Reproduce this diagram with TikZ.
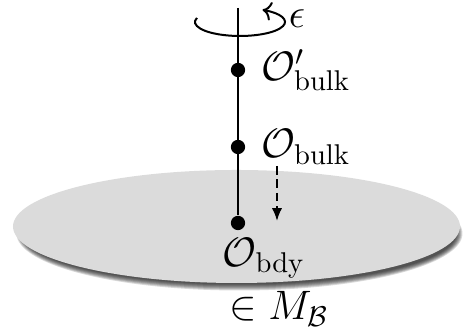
\documentclass[tikz,border=0pt]{standalone}
\usetikzlibrary{positioning,arrows.meta}

\begin{document}
\begin{tikzpicture}[
  x=0.35pt, y=0.35pt, font=\fontsize{14}{17}\selectfont, line width=0.7pt,
  opdot/.style={circle, fill=black, inner sep=0pt, minimum size=5pt},
  oplabel/.style={inner sep=1pt},
  flow/.style={dash pattern=on 3pt off 1.7pt, -{Latex[length=4.5pt,width=3.6pt]}},
  plane/.style={fill=black!14},
  planeshadow/.style={fill=black, opacity=0.15}
]
\useasboundingbox (0,0) rectangle (464,328);
% boundary plane with a soft shadow
\foreach \r in {0,...,6}
  \fill[planeshadow] (239.5,94.5) ellipse [x radius=217+\r, y radius=51+\r];
\fill[plane] (236.5,101.5) ellipse [x radius=223.5, y radius=56.5];

% rotation about the line
\draw[->] (240,306) ++(163:45 and 14) arc [start angle=163, end angle=420, x radius=45, y radius=14];
\node[inner sep=0pt] (eps) at (297,309) {$\epsilon$};

% operators on the line
\coordinate (top) at (238,320);
\node[opdot] (bulkb) at (238,258) {};
\node[opdot] (bulka) at (238,181) {};
\node[opdot] (bdy) at (238,105) {};
\draw (top) -- (bdy);

\node[oplabel, right=4pt of bulkb] (bulkbtext) {$\mathcal{O}'_{\mathrm{bulk}}$};
\node[oplabel, right=4pt of bulka] (bulkatext) {$\mathcal{O}_{\mathrm{bulk}}$};
\node[oplabel] (bdytext) at (264,70) {$\mathcal{O}_{\mathrm{bdy}}$};
\node[oplabel] (inM) at (279,19) {$\in M_{\mathcal{B}}$};

% pushed down to the boundary
\coordinate (pushfrom) at (277,162);
\coordinate (pushto) at (277,107);
\draw[flow] (pushfrom) -- (pushto);
\end{tikzpicture}
\end{document}
